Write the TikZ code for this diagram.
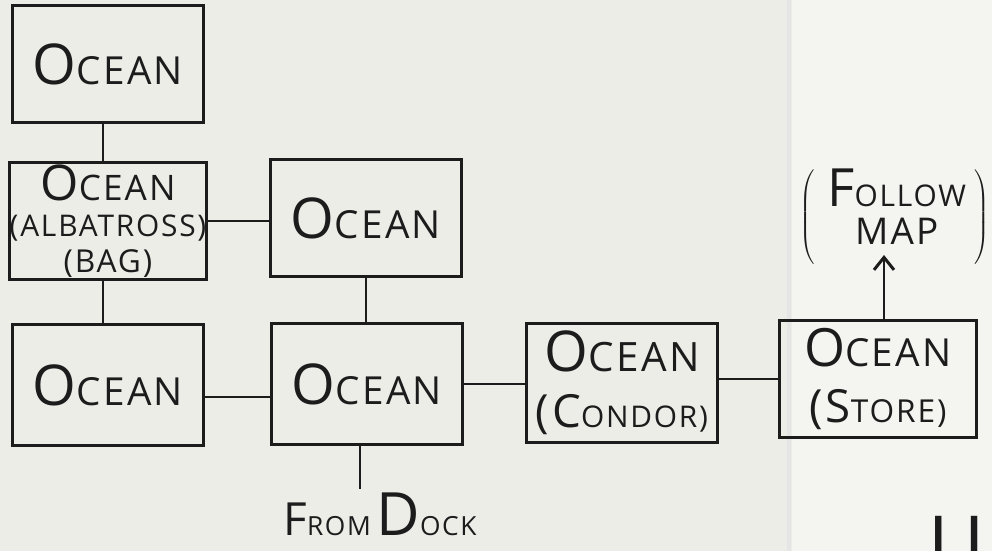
\documentclass[tikz,border=0pt]{standalone}
\usepackage{fontspec}
\setmainfont{Open Sans}[LetterSpace=6]
\usetikzlibrary{arrows.meta,positioning}
\definecolor{ink}{HTML}{1C1C1C}
\definecolor{paper}{HTML}{EDEDE8}
\definecolor{paperfold}{HTML}{F4F4F1}
% big first letter, smaller capitals after it
\newcommand{\capword}[4]{{\fontsize{#3}{#3}\selectfont #1}{\fontsize{#4}{#4}\selectfont #2}}

\begin{document}
\begin{tikzpicture}[x=0.02cm,y=-0.02cm,
  room/.style={draw=ink,line width=1.7pt,rectangle,inner sep=0pt,
    minimum width=3.82cm,minimum height=2.34cm,align=center,text=ink},
  passage/.style={draw=ink,line width=1.7pt},
  note/.style={text=ink,inner sep=2pt,align=center}]
\clip (0,0) rectangle (992,551);
\fill[paper] (0,0) rectangle (792,551);
\fill[paperfold] (792,0) rectangle (992,551);
\draw[black!10,line width=2pt] (789,0) -- (789,551);

% rooms
\node[room] (top) at (108,64) {\capword{O}{CEAN}{32}{22}};
\node[room,font={\fontsize{18}{20.5}\selectfont}] (alb) at (108,221)
  {\capword{O}{CEAN}{28}{20}\\{\fontsize{17}{17}\selectfont(ALBATROSS)}\\{\fontsize{18}{18}\selectfont(BAG)}};
\node[room] (oc2) at (366,218) {\capword{O}{CEAN}{32}{22}};
\node[room,minimum height=2.44cm] (bl) at (108,385) {\capword{O}{CEAN}{32}{22}};
\node[room,minimum height=2.44cm] (mid) at (367,384) {\capword{O}{CEAN}{32}{22}};
\node[room,minimum height=2.4cm,font={\fontsize{20}{32}\selectfont}] (condor) at (622,383)
  {\capword{O}{CEAN}{32}{23}\\\capword{(C}{ONDOR)}{26}{17}};
\node[room,minimum width=3.94cm,font={\fontsize{20}{32}\selectfont}] (store) at (878,379)
  {\capword{O}{CEAN}{30}{22}\\\capword{(S}{TORE)}{26}{18}};

% labels outside the rooms
\node[note] (follow) at (895,217)
  {$\left(\hspace{7pt}\fontsize{21}{21.6}\selectfont\begin{tabular}{@{}c@{}}\capword{F}{OLLOW}{30}{17}\\MAP\end{tabular}\hspace{5pt}\right)$};
\node[note] (dock) at (380,514) {\capword{F}{ROM}{26}{15} \capword{D}{OCK}{34}{15}};
\node[text=ink,anchor=north west,inner sep=0pt] (edgeword) at (928,516) {\fontsize{44}{44}\selectfont U};
\coordinate (mapend) at (884,255);

% passages
\draw[passage] ([xshift=-0.1cm]top.south) -- ([xshift=-0.1cm]alb.north);
\draw[passage] (alb.east) -- (alb.east -| oc2.west);
\draw[passage] ([xshift=-0.1cm]alb.south) -- ([xshift=-0.1cm]bl.north);
\draw[passage] (oc2.south) -- (oc2.south |- mid.north);
\draw[passage] ([yshift=-0.24cm]bl.east) -- ([yshift=-0.24cm]bl.east -| mid.west);
\draw[passage] (mid.east) -- (mid.east -| condor.west);
\draw[passage] (store.west -| condor.east) -- (store.west);
\draw[passage,-{Straight Barb[length=2.5mm,width=4mm]}] (store.north -| mapend) -- (mapend);
\draw[passage] ([xshift=-0.14cm]mid.south) -- ([xshift=-0.14cm]mid.south |- dock.north);
\end{tikzpicture}
\end{document}
